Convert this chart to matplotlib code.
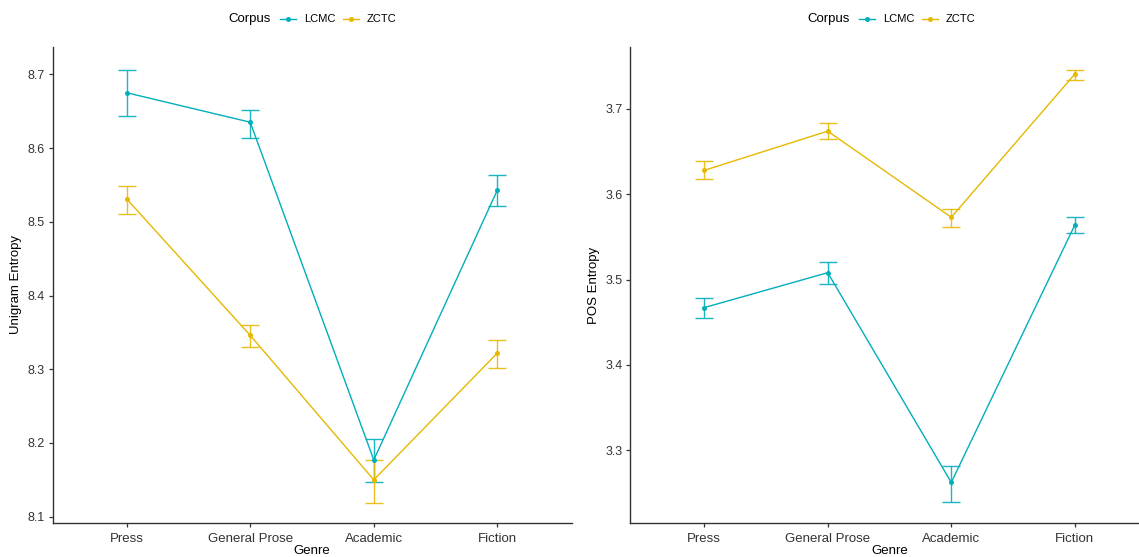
import matplotlib
matplotlib.use("Agg")
import matplotlib.pyplot as plt
from matplotlib.lines import Line2D

plt.rcParams['font.family'] = ['Liberation Sans', 'DejaVu Sans']

genres = ["Press", "General Prose", "Academic", "Fiction"]
corpora = ["LCMC", "ZCTC"]
colors = {"LCMC": "#00AFBB", "ZCTC": "#E7B800"}

# Unigram entropy: means, lower and upper error bounds
uni_mean = {"LCMC": [8.675, 8.635, 8.177, 8.543],
            "ZCTC": [8.531, 8.346, 8.150, 8.322]}
uni_low = {"LCMC": [8.643, 8.614, 8.147, 8.522],
           "ZCTC": [8.510, 8.330, 8.118, 8.302]}
uni_high = {"LCMC": [8.706, 8.652, 8.205, 8.564],
            "ZCTC": [8.549, 8.360, 8.177, 8.340]}

# POS entropy
pos_mean = {"LCMC": [3.467, 3.508, 3.262, 3.564],
            "ZCTC": [3.628, 3.674, 3.573, 3.741]}
pos_low = {"LCMC": [3.455, 3.495, 3.239, 3.554],
           "ZCTC": [3.618, 3.665, 3.562, 3.734]}
pos_high = {"LCMC": [3.478, 3.520, 3.281, 3.573],
            "ZCTC": [3.639, 3.684, 3.583, 3.746]}

uni_ticks = [8.1, 8.2, 8.3, 8.4, 8.5, 8.6, 8.7]
pos_ticks = [3.3, 3.4, 3.5, 3.6, 3.7]

W, H = 1139, 557
fig = plt.figure(figsize=(W / 100, H / 100), dpi=100)

def fx(px):
    return px / W

def fy(py):
    return (H - py) / H

ax1 = fig.add_axes([fx(52.5), fy(523), fx(571.5) - fx(52.5), fy(47) - fy(523)])
ax2 = fig.add_axes([fx(630), fy(523), fx(1149) - fx(630), fy(47) - fy(523)])

def draw(ax, mean, low, high, ticks, ylim, ylabel):
    xs = list(range(len(genres)))
    for c in corpora:
        m = mean[c]
        lo = [mi - l for mi, l in zip(m, low[c])]
        hi = [h - mi for mi, h in zip(m, high[c])]
        ax.errorbar(xs, m, yerr=[lo, hi], fmt='none', ecolor=colors[c],
                    elinewidth=1.0, capsize=6.8, capthick=1.0, zorder=2, alpha=0.9)
        ax.plot(xs, m, color=colors[c], lw=1.0, marker='o', markersize=3.6,
                markeredgewidth=0, zorder=3)
    ax.set_xlim(-0.6, len(genres) - 0.4)
    ax.set_ylim(*ylim)
    ax.set_xticks(xs)
    ax.set_xticklabels(genres, fontsize=9.5, color='#333333')
    ax.set_yticks(ticks)
    ax.set_yticklabels([f"{t:.1f}" for t in ticks], fontsize=9, color='#333333')
    for s in ['top', 'right']:
        ax.spines[s].set_visible(False)
    for s in ['left', 'bottom']:
        ax.spines[s].set_color('#333333')
        ax.spines[s].set_linewidth(1.0)
    ax.tick_params(axis='both', length=3, width=0.9, color='#333333', pad=2.5)
    ax.tick_params(axis='x', pad=4)
    ax.set_ylabel(ylabel, fontsize=9.5, labelpad=4)
    ax.set_xlabel("Genre", fontsize=9.5, labelpad=0.5)

draw(ax1, uni_mean, uni_low, uni_high, uni_ticks, (8.0915, 8.737), "Unigram Entropy")
draw(ax2, pos_mean, pos_low, pos_high, pos_ticks, (3.2144, 3.7727), "POS Entropy")

def legend(x0):
    yc = fy(19)
    fig.text(fx(x0), yc, "Corpus", fontsize=9.5, va='center', ha='left')
    offs = [(52, 76), (115, 139)]
    for c, (ko, to) in zip(corpora, offs):
        fig.add_artist(Line2D([fx(x0 + ko), fx(x0 + ko + 16)], [yc, yc],
                              color=colors[c], lw=1.0, marker=None))
        fig.add_artist(Line2D([fx(x0 + ko + 8)], [yc], color=colors[c],
                              marker='o', markersize=3.6, markeredgewidth=0))
        fig.text(fx(x0 + to), yc, c, fontsize=8, va='center', ha='left')

legend(228)
legend(807)

fig.savefig("out.png", dpi=100)
